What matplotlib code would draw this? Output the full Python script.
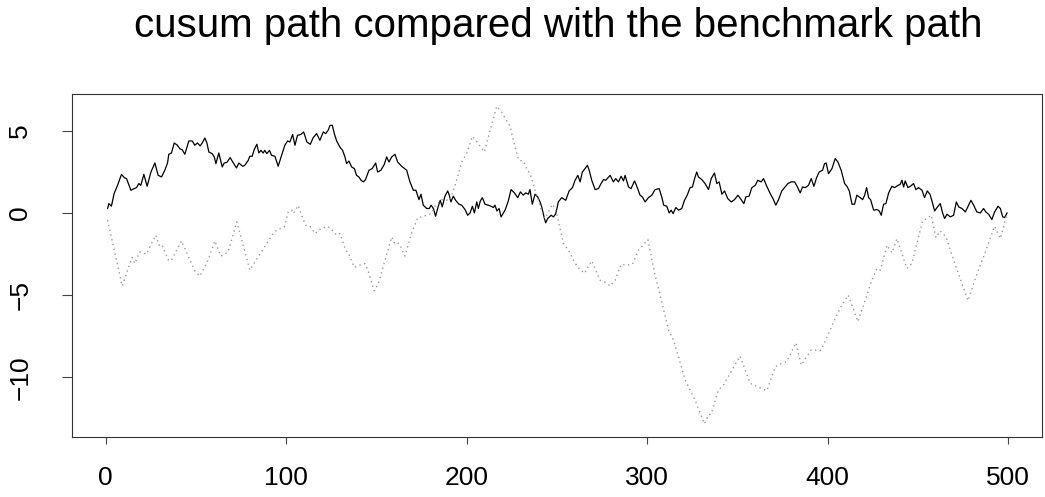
import matplotlib.pyplot as plt

plt.rcParams['font.family'] = ['Liberation Sans', 'DejaVu Sans']

# cusum path (solid)
cusum_x = [1.0, 1.7, 3.1, 4.6, 6.5, 8.7, 10.2, 11.5, 13.9, 15.7, 17.0, 18.3, 19.4, 21.1, 22.9,
           25.0, 27.2, 29.0, 30.9, 32.7, 34.2, 34.9, 36.4, 37.9, 39.7, 41.0, 42.3, 43.8, 46.0,
           47.9, 49.3, 50.8, 52.3, 53.4, 54.9, 56.0, 57.1, 58.9, 60.1, 61.0, 62.6, 63.8, 64.5,
           65.6, 67.1, 68.9, 70.0, 72.4, 73.7, 75.8, 77.0, 78.9, 79.8, 81.1, 82.2, 83.7, 84.8,
           85.9, 87.2, 88.1, 89.2, 90.7, 91.8, 93.7, 95.5, 97.4, 99.2, 100.7, 102.0, 103.5,
           104.8, 106.2, 108.1, 109.6, 111.4, 113.3, 114.9, 116.8, 118.6, 120.5, 121.8, 123.2,
           124.2, 125.5, 126.6, 127.9, 129.7, 131.2, 132.5, 133.4, 134.7, 136.2, 137.7, 138.9,
           140.2, 141.4, 142.7, 143.9, 145.8, 147.6, 149.5, 150.6, 152.4, 154.3, 155.6, 156.9,
           158.4, 160.2, 161.7, 163.9, 166.7, 168.5, 170.4, 171.8, 173.5, 174.6, 175.9, 177.8,
           179.2, 180.2, 181.5, 182.7, 184.2, 185.3, 186.4, 187.9, 189.4, 190.3, 191.2, 192.5,
           193.8, 195.7, 197.2, 199.0, 200.5, 201.8, 203.1, 204.2, 205.5, 206.4, 207.5, 208.6,
           210.1, 211.9, 213.4, 214.7, 215.6, 216.7, 217.9, 219.0, 221.2, 223.0, 224.5, 226.4,
           228.2, 229.7, 231.3, 232.6, 234.1, 235.0, 236.3, 237.8, 239.3, 240.6, 241.5, 243.0,
           243.7, 244.8, 246.7, 248.0, 249.3, 250.7, 252.6, 254.8, 256.7, 258.5, 260.0, 261.5,
           262.8, 264.0, 265.5, 266.8, 267.9, 269.2, 271.1, 272.9, 274.4, 275.7, 277.0, 279.4,
           281.2, 282.5, 284.0, 285.5, 286.8, 287.7, 289.6, 291.0, 292.9, 294.2, 296.0, 297.3,
           298.8, 300.6, 302.5, 304.3, 306.6, 308.0, 309.1, 310.8, 312.1, 313.2, 314.3, 315.8,
           317.3, 319.1, 320.6, 322.1, 323.7, 325.0, 326.5, 327.4, 328.3, 330.2, 332.0, 333.9,
           335.4, 337.2, 338.5, 339.8, 341.3, 342.8, 344.6, 346.5, 348.3, 350.2, 352.0, 353.5,
           354.6, 356.4, 357.9, 359.8, 361.2, 363.1, 364.4, 366.2, 368.1, 369.9, 371.2, 372.7,
           374.5, 376.0, 377.9, 379.7, 381.6, 383.0, 384.7, 386.0, 387.5, 389.3, 390.8, 392.3,
           393.8, 395.2, 397.1, 398.2, 399.1, 400.4, 402.3, 404.1, 405.6, 407.4, 409.3, 410.6,
           411.9, 413.4, 414.8, 416.1, 418.0, 419.3, 420.4, 421.5, 422.6, 423.7, 425.4, 427.2,
           428.5, 429.6, 430.9, 432.2, 433.7, 435.5, 437.0, 438.9, 440.1, 441.1, 442.0, 442.9,
           444.4, 445.7, 447.5, 448.8, 450.3, 452.2, 453.6, 455.1, 456.6, 457.7, 459.2, 460.5,
           462.3, 463.6, 464.7, 466.0, 467.9, 469.7, 471.2, 472.5, 474.3, 476.2, 477.7, 479.3,
           480.8, 482.6, 484.5, 486.3, 487.6, 489.1, 490.9, 492.4, 494.3, 495.6, 496.9, 498.0,
           499.3]
cusum_y = [0.27, 0.57, 0.41, 1.18, 1.68, 2.35, 2.15, 2.09, 1.38, 1.48, 1.54, 1.79, 1.68, 2.35, 1.62,
           2.49, 3.04, 2.29, 2.19, 2.60, 3.04, 3.57, 3.65, 4.26, 4.12, 3.91, 3.85, 3.57, 4.38,
           4.38, 4.12, 4.26, 4.08, 4.26, 4.56, 4.26, 3.71, 3.61, 3.41, 3.00, 3.65, 3.10, 2.80,
           3.04, 3.08, 3.37, 3.16, 2.74, 3.04, 2.84, 2.90, 3.20, 3.45, 3.45, 3.85, 4.18, 3.65,
           3.81, 3.65, 3.81, 3.61, 3.81, 3.51, 3.45, 2.84, 3.51, 4.12, 4.38, 4.32, 4.78,
           4.12, 4.72, 4.78, 4.93, 4.32, 4.18, 4.58, 4.83, 4.42, 4.93, 4.83, 5.03,
           5.33, 5.33, 4.83, 4.38, 4.01, 3.81, 3.41, 3.00, 3.16, 2.80, 2.70, 2.29,
           2.19, 1.99, 1.89, 2.03, 2.60, 2.70, 3.04, 2.49, 2.60, 2.96, 3.41, 3.10,
           3.41, 3.57, 3.10, 2.84, 2.60, 1.89, 1.38, 1.38, 0.81, 1.14, 0.47, 0.27,
           0.27, 0.47, 0.27, -0.20, 0.41, 0.77, 0.37, 1.02, 1.34, 1.08, 0.67, 1.02,
           0.77, 0.53, 0.47, 0.21, -0.14, 0.00, 0.41, 0.00, 0.67, 0.27, 0.73, 0.93,
           0.53, 0.47, 0.41, 0.33, 0.47, 0.12, 0.27, -0.24, 0.17, 0.73, 1.42, 1.22,
           0.93, 1.28, 1.08, 1.22, 1.14, 1.42, 0.53, 1.14, 0.97, 0.67, 0.37, -0.34,
           -0.60, -0.34, -0.14, -0.24, -0.04, 0.67, 0.93, 0.77, 1.34, 1.54, 1.99, 2.29,
           1.89, 2.49, 2.70, 2.90, 2.56, 1.99, 1.42, 1.48, 1.79, 2.03, 1.99, 2.29,
           1.89, 2.09, 1.89, 2.23, 1.95, 2.29, 1.58, 1.48, 1.95, 1.62, 1.08, 0.97,
           0.67, 0.93, 1.08, 1.42, 1.48, 0.97, 0.47, 0.41, 0.00, 0.17, -0.04, 0.33,
           0.17, 0.27, 0.77, 1.08, 1.54, 1.58, 2.20, 2.49, 2.19, 2.03, 1.79, 1.42,
           2.09, 2.43, 1.79, 1.89, 1.14, 1.34, 0.87, 0.67, 0.81, 1.08, 0.81, 0.57,
           0.98, 1.02, 1.54, 1.68, 1.99, 1.89, 2.09, 1.62, 1.18, 0.81, 0.47, 0.81,
           1.34, 1.54, 1.79, 1.89, 1.89, 1.62, 1.22, 1.58, 1.54, 1.68, 2.09, 1.62,
           2.15, 2.49, 2.60, 3.00, 3.04, 2.39, 2.70, 3.31, 3.10, 2.60, 1.79, 1.62,
           1.34, 0.53, 0.53, 1.08, 0.93, 0.81, 1.08, 1.54, 0.93, 0.81, 0.17, 0.21,
           0.12, -0.14, 0.53, 0.57, 1.22, 1.62, 1.54, 1.68, 1.74, 1.99, 1.58, 1.95,
           1.54, 1.62, 1.79, 1.42, 1.54, 1.38, 0.93, 1.34, 1.14, 0.73, 0.12, 0.33,
           0.57, 0.00, -0.34, -0.08, -0.24, -0.14, 0.67, 0.37, 0.27, 0.06, 0.41, 0.77,
           0.47, 0.06, 0.00, 0.27, 0.06, -0.08, -0.40, 0.06, 0.41, 0.27, -0.24, -0.28,
           0.00]

# benchmark path (dotted)
bench_x = [1.0, 9.1, 13.3, 14.6, 16.1, 18.8, 22.5, 25.3, 27.7, 29.4, 30.9, 34.9, 36.4, 41.9,
           49.3, 52.1, 56.7, 60.4, 63.8, 67.8, 72.6, 79.8, 84.4, 89.1, 93.3, 95.5, 98.9,
           101.1, 102.9, 103.8, 106.6, 108.5, 110.7, 113.1, 115.9, 119.2, 122.9, 125.5, 127.9,
           129.7, 132.9, 134.3, 137.7, 140.8, 143.6, 145.8, 148.7, 151.0, 154.7, 158.4, 159.8,
           161.3, 163.0, 165.7, 169.4, 172.8, 175.0, 177.8, 180.2, 182.4, 186.1, 190.7, 193.5,
           197.2, 199.9, 203.1, 206.4, 209.7, 213.4, 216.6, 219.3, 224.0, 226.7, 228.9, 231.3,
           233.8, 235.0, 237.8, 240.0, 241.5, 243.4, 245.2, 247.4, 248.9, 250.0, 253.5, 256.3,
           259.1, 261.5, 263.3, 265.2, 269.2, 273.8, 276.2, 279.4, 282.2, 285.5, 288.6, 291.8,
           295.1, 298.4, 300.3, 304.3, 308.0, 311.7, 314.5, 321.0, 326.5, 331.7, 333.9, 335.4,
           339.4, 342.2, 351.4, 357.0, 361.6, 366.2, 370.9, 374.5, 377.3, 382.3, 385.3, 387.1,
           390.8, 395.8, 397.6, 401.3, 404.1, 407.8, 411.3, 416.7, 420.7, 424.4, 427.2, 429.1,
           432.8, 435.5, 438.3, 443.8, 446.6, 452.5, 454.9, 457.3, 459.9, 462.3, 465.5, 469.7,
           474.3, 477.7, 482.1, 487.3, 492.4, 495.6, 499.3]
bench_y = [-0.44, -4.45, -3.08, -2.71, -3.08, -2.37, -2.51, -1.86, -1.35, -1.96, -1.90, -2.91, -2.87, -1.70,
           -3.52, -3.85, -2.87, -1.70, -2.63, -2.37, -0.54, -3.48, -2.67, -1.86, -1.15, -1.01, -0.85,
           0.06, 0.17, -0.04, 0.45, -0.14, -0.75, -0.81, -1.25, -0.95, -0.81, -1.05, -1.35,
           -1.25, -2.27, -2.43, -3.32, -3.18, -3.08, -3.68, -4.74, -4.29, -2.87, -1.46, -1.82,
           -1.76, -1.96, -2.63, -1.25, -0.28, -0.24, -0.14, -0.04, 0.41, 0.81, 0.77, 1.68,
           3.10, 3.61, 4.66, 4.22, 3.71, 5.23, 6.49, 6.14, 5.27, 4.01, 3.20, 3.16,
           2.56, 2.43, 1.38, 0.67, 0.06, -0.34, 0.06, 0.53, 0.27, -0.14, -1.86, -2.27,
           -2.87, -3.32, -3.48, -3.68, -2.91, -4.09, -4.19, -4.45, -4.09, -3.12, -3.18, -3.12,
           -2.27, -1.86, -1.62, -3.78, -5.41, -7.13, -7.74, -10.17, -11.42, -12.84, -12.30, -12.23,
           -10.77, -10.47, -8.71, -10.37, -10.61, -10.82, -9.36, -9.15, -9.05, -7.90, -9.26, -8.95,
           -8.34, -8.39, -8.04, -7.13, -6.42, -5.61, -5.00, -6.62, -5.30, -4.09, -3.38, -3.48,
           -1.96, -2.43, -1.56, -3.38, -3.08, -0.48, -0.34, -0.14, -1.50, -1.09, -1.46, -2.87,
           -4.29, -5.34, -3.88, -2.37, -0.81, -1.56, -0.04]

xticks = [0, 100, 200, 300, 400, 500]
yticks = [-10, -5, 0, 5]

fig = plt.figure(figsize=(10.45, 4.97), dpi=100)
ax = fig.add_axes([71.5/1045, 1 - 436.7/497, (1041.7 - 71.5)/1045, (436.7 - 94)/497])

ax.plot(cusum_x, cusum_y, color='black', lw=0.9)
ax.plot(bench_x, bench_y, color='#9a9a9a', lw=1.0, linestyle=(0, (1, 2.5)))

ax.set_xlim(-19, 518.5)
ax.set_ylim(-13.62, 7.24)
ax.set_xticks(xticks)
ax.set_yticks(yticks)
ax.tick_params(axis='both', direction='out', width=0.8, labelsize=19, color='#444444')
ax.tick_params(axis='x', length=5.2, pad=16)
ax.tick_params(axis='y', length=7.2, pad=21)
for lab in ax.get_yticklabels():
    lab.set_rotation(90)
    lab.set_va('center')
for sp in ax.spines.values():
    sp.set_linewidth(0.8)
    sp.set_color('#333333')

fig.text(558.5/1045, 1 - 37/497, 'cusum path compared with the benchmark path',
         ha='center', va='baseline', fontsize=29)

fig.savefig('out.png', dpi=100)
